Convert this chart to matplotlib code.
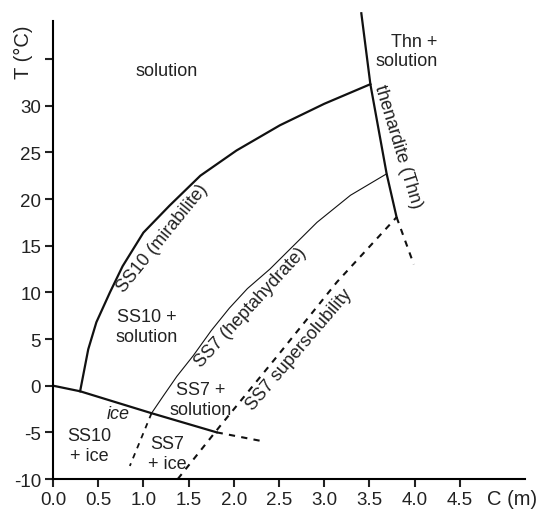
#相图：硫酸钠-水体系
import matplotlib
matplotlib.use('Agg')
import matplotlib.pyplot as plt

plt.rcParams['font.family'] = ['Liberation Sans', 'DejaVu Sans']

#曲线数据 C (m), T (°C)
ice_c = [0.0, 0.30, 1.09, 1.81]
ice_t = [0.0, -0.6, -2.95, -5.0]
ice_ext_c = [1.81, 2.29]
ice_ext_t = [-5.0, -5.9]

ss10_c = [0.30, 0.39, 0.48, 0.63, 0.77, 1.00, 1.29, 1.63, 2.03, 2.51, 3.00, 3.51]
ss10_t = [-0.6, 3.9, 6.8, 10.0, 12.8, 16.4, 19.3, 22.5, 25.2, 27.9, 30.2, 32.3]

ss7_c = [1.09, 1.22, 1.37, 1.55, 1.75, 1.95, 2.15, 2.40, 2.66, 2.92, 3.29, 3.69]
ss7_t = [-2.95, -1.1, 1.0, 3.2, 5.9, 8.3, 10.4, 12.5, 15.0, 17.5, 20.4, 22.7]
ss7_ext_c = [1.09, 0.85]
ss7_ext_t = [-2.95, -8.6]

thn_c = [3.41, 3.51, 3.69, 3.80]
thn_t = [39.9, 32.3, 22.7, 18.05]
thn_ext_c = [3.80, 3.99]
thn_ext_t = [18.05, 13.0]

super_c = [1.38, 1.85, 2.50, 3.14, 3.80]
super_t = [-10.0, -4.3, 3.4, 11.1, 18.05]

xticks = [0.0, 0.5, 1.0, 1.5, 2.0, 2.5, 3.0, 3.5, 4.0, 4.5]
yticks = [-10, -5, 0, 5, 10, 15, 20, 25, 30, 35]
ytick_labels = ['-10', '-5', '0', '5', '10', '15', '20', '25', '30', '']

fig = plt.figure(figsize=(5.39, 5.10), dpi=100)
ax = fig.add_axes([0.0983, 0.0588, 0.8757, 0.8986])

k = '#111111'
dash = (0, (3, 3))
ax.plot(ice_c, ice_t, color=k, lw=1.6)
ax.plot(ice_ext_c, ice_ext_t, color=k, lw=1.5, ls=dash)
ax.plot(ss10_c, ss10_t, color=k, lw=1.6)
ax.plot(ss7_c, ss7_t, color=k, lw=0.8)
ax.plot(ss7_ext_c, ss7_ext_t, color=k, lw=1.3, ls=dash)
ax.plot(thn_c, thn_t, color=k, lw=1.6, clip_on=False)
ax.plot(thn_ext_c, thn_ext_t, color=k, lw=1.5, ls=dash)
ax.plot(super_c, super_t, color=k, lw=1.5, ls=dash)

ax.set_xlim(0, 5.22)
ax.set_ylim(-10, 39.1)
ax.set_xticks(xticks)
ax.set_xticklabels(['%.1f' % v for v in xticks])
ax.set_yticks(yticks)
ax.set_yticklabels(ytick_labels)
for s in ['top', 'right']:
    ax.spines[s].set_visible(False)
for s in ['left', 'bottom']:
    ax.spines[s].set_linewidth(1.5)
ax.tick_params(direction='out', length=5.5, width=1.5, labelsize=13.5, colors='#222222', pad=3)

fs = 13
tc = '#222222'
ax.text(4.80, -12.1, 'C (m)', fontsize=14.5, color=tc, ha='left', va='center', clip_on=False)
ax.text(-0.33, 35.8, 'T (°C)', fontsize=14.5, color=tc, rotation=90, ha='center', va='center', clip_on=False)

ax.text(1.26, 33.8, 'solution', fontsize=fs, color=tc, ha='center', va='center')
ax.text(4.25, 35.85, 'Thn +\nsolution', fontsize=fs, color=tc, ha='right', va='center', multialignment='right')
ax.text(3.81, 25.7, 'thenardite (Thn)', fontsize=fs, color=tc, rotation=-73, ha='center', va='center', rotation_mode='anchor')
ax.text(1.21, 15.9, 'SS10 (mirabilite)', fontsize=fs, color=tc, rotation=51, ha='center', va='center', rotation_mode='anchor')
ax.text(1.04, 6.35, 'SS10 +\nsolution', fontsize=fs, color=tc, ha='center', va='center')
ax.text(2.18, 8.4, 'SS7 (heptahydrate)', fontsize=fs, color=tc, rotation=47.4, ha='center', va='center', rotation_mode='anchor')
ax.text(2.72, 3.9, 'SS7 supersolubility', fontsize=fs, color=tc, rotation=49.6, ha='center', va='center', rotation_mode='anchor')
ax.text(1.63, -1.5, 'SS7 +\nsolution', fontsize=fs, color=tc, ha='center', va='center')
ax.text(0.72, -3.0, 'ice', fontsize=fs, color=tc, style='italic', ha='center', va='center')
ax.text(0.40, -6.4, 'SS10\n+ ice', fontsize=fs, color=tc, ha='center', va='center')
ax.text(1.26, -7.25, 'SS7\n+ ice', fontsize=fs, color=tc, ha='center', va='center')

fig.savefig('out.png', dpi=100)
